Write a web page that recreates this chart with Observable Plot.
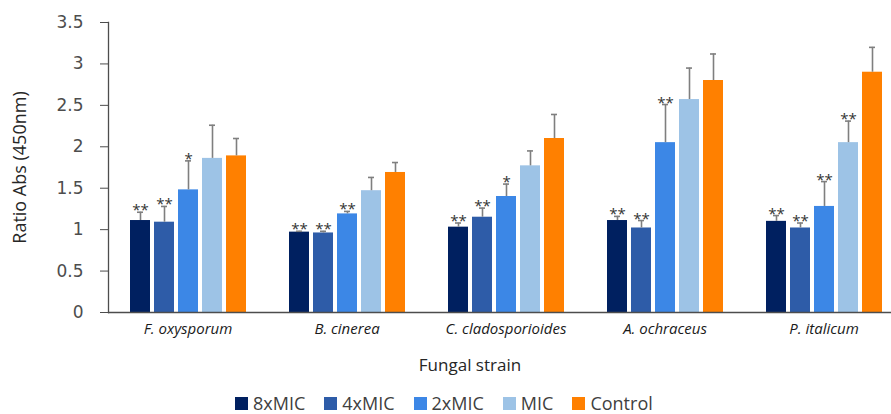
<!DOCTYPE html>
<html>
<head>
<meta charset="utf-8">
<script src="https://cdn.jsdelivr.net/npm/d3@7"></script>
<script src="https://cdn.jsdelivr.net/npm/@observablehq/plot@0.6"></script>
<style>
  html, body { margin: 0; padding: 0; background: #fff; overflow: hidden; }
  #wrap { position: relative; width: 891px; height: 414px; font-family: "Open Sans", sans-serif; }
  #xlabel { position: absolute; top: 353px; left: 370px; width: 200px; text-align: center; font-size: 17px; color: #262626; }
  #legend { position: absolute; top: 393px; left: 235px; display: flex; align-items: center; font-size: 18px; color: #404040; line-height: 20px; height: 20px; white-space: nowrap; }
  #legend .item { display: flex; align-items: center; margin-right: 19px; }
  #legend .sw { display: inline-block; width: 13px; height: 13px; margin-right: 5px; }
</style>
</head>
<body>
<div id="wrap">
  <div id="chart"></div>
  <div id="xlabel">Fungal strain</div>
  <div id="legend"></div>
</div>
<script>
const strains = ["F. oxysporum", "B. cinerea", "C. cladosporioides", "A. ochraceus", "P. italicum"];
const series = ["8xMIC", "4xMIC", "2xMIC", "MIC", "Control"];
const colors = ["#002060", "#2E5CA8", "#3C87E6", "#9DC3E6", "#FF8000"];
const yTicks = [0, 0.5, 1, 1.5, 2, 2.5, 3, 3.5];

// mean values per series (one per strain)
const v8x   = [1.11, 0.97, 1.03, 1.11, 1.10];
const v4x   = [1.09, 0.96, 1.15, 1.02, 1.02];
const v2x   = [1.48, 1.19, 1.40, 2.05, 1.28];
const vMIC  = [1.86, 1.47, 1.77, 2.57, 2.05];
const vCtrl = [1.89, 1.69, 2.10, 2.80, 2.90];

// error (SD) per series
const e8x   = [0.10, 0.01, 0.05, 0.05, 0.07];
const e4x   = [0.19, 0.02, 0.11, 0.09, 0.06];
const e2x   = [0.35, 0.03, 0.15, 0.46, 0.30];
const eMIC  = [0.40, 0.16, 0.18, 0.38, 0.26];
const eCtrl = [0.21, 0.12, 0.29, 0.32, 0.30];

// significance marks
const s8x   = ["**", "**", "**", "**", "**"];
const s4x   = ["**", "**", "**", "**", "**"];
const s2x   = ["*", "**", "*", "**", "**"];
const sMIC  = ["", "", "", "", "**"];
const sCtrl = ["", "", "", "", ""];

const vals = [v8x, v4x, v2x, vMIC, vCtrl];
const errs = [e8x, e4x, e2x, eMIC, eCtrl];
const stars = [s8x, s4x, s2x, sMIC, sCtrl];

const rows = series.flatMap((s, i) => strains.map((st, j) => ({
  strain: st, series: s, value: vals[i][j], err: errs[i][j], star: stars[i][j]
})));
const errTop = d => d.value + d.err;

const chart = Plot.plot({
  width: 891,
  height: 345,
  marginLeft: 108,
  marginRight: -12,
  marginTop: 22,
  marginBottom: 33,
  style: { fontFamily: "Open Sans", background: "white", overflow: "hidden" },
  fx: { domain: strains, paddingInner: 0, paddingOuter: 0, label: null },
  x: { domain: series, axis: null, paddingInner: 0.177, paddingOuter: 0.86 },
  y: { domain: [0, 3.5], label: null },
  color: { domain: series, range: colors },
  marks: [
    Plot.barY(rows, { fx: "strain", x: "series", y: "value", fill: "series" }),
    Plot.ruleX(rows, { fx: "strain", x: "series", y1: "value", y2: errTop, stroke: "#7f7f7f", strokeWidth: 1.6 }),
    Plot.tickY(rows, { fx: "strain", x: "series", y: errTop, stroke: "#7f7f7f", strokeWidth: 1.6, insetLeft: 7, insetRight: 7 }),
    Plot.text(rows, { fx: "strain", x: "series", y: errTop, text: "star", lineAnchor: "bottom", dy: 3, fontSize: 15, fill: "#333333" }),
    Plot.ruleY([0], { stroke: "#4d4d4d", strokeWidth: 1.3 }),
    Plot.frame({ anchor: "left", facetAnchor: "left", stroke: "#4d4d4d", strokeWidth: 1.3 }),
    Plot.axisY({
      ticks: yTicks, tickSize: 8, tickPadding: 17, tickFormat: d => String(d),
      fontSize: 17, fontFamily: "DejaVu Sans", color: "#4d4d4d", label: null
    }),
    Plot.axisY({
      ticks: [], tickSize: 0, fontSize: 18, color: "#262626",
      label: "Ratio Abs (450nm)", labelAnchor: "center", labelArrow: "none", labelOffset: 95
    }),
    Plot.axisFx({ anchor: "bottom", tickSize: 0, tickPadding: 11, fontSize: 15, fontStyle: "italic", color: "#1a1a1a", label: null })
  ]
});
document.getElementById("chart").appendChild(chart);

// legend built from the same series/colour arrays
const legend = d3.select("#legend");
series.forEach((s, i) => {
  const item = legend.append("span").attr("class", "item");
  item.append("span").attr("class", "sw").style("background", colors[i]);
  item.append("span").text(s);
});
</script>
</body>
</html>
